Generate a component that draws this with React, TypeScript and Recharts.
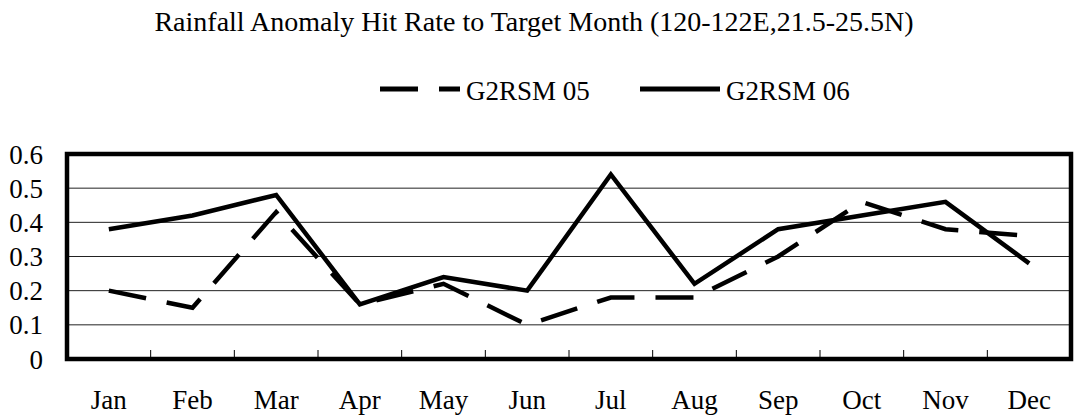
import React from "react";
import {
  LineChart,
  Line,
  XAxis,
  YAxis,
  CartesianGrid,
  ReferenceArea,
} from "recharts";

const months = ["Jan", "Feb", "Mar", "Apr", "May", "Jun", "Jul", "Aug", "Sep", "Oct", "Nov", "Dec"];
const g2rsm05 = [0.2, 0.15, 0.43, 0.16, 0.22, 0.1, 0.18, 0.18, 0.3, 0.46, 0.38, 0.36];
const g2rsm06 = [0.38, 0.42, 0.48, 0.16, 0.24, 0.2, 0.54, 0.22, 0.38, 0.42, 0.46, 0.28];
const yTicks = [0, 0.1, 0.2, 0.3, 0.4, 0.5, 0.6];
const seriesKeys = ["g05", "g06"];
const seriesNames: Record<string, string> = { g05: "G2RSM 05", g06: "G2RSM 06" };
const title = "Rainfall Anomaly Hit Rate to Target Month (120-122E,21.5-25.5N)";

const data = months.map((m, i) => ({ month: m, x: i + 0.5, g05: g2rsm05[i], g06: g2rsm06[i] }));
const labelTicks = months.map((_, i) => i + 0.5);
const boundaryTicks = months.slice(1).map((_, i) => i + 1);

const FONT = "'Liberation Serif', 'Times New Roman', serif";
const DASH = "38 21";
const seriesDash: Record<string, string | undefined> = { g05: DASH, g06: undefined };
const W = 1078;
const H = 415;

const EmptyTick = () => <g />;

export default function App() {
  return (
    <div style={{ position: "absolute", left: 0, top: 0, width: W, height: H, background: "#fff", fontFamily: FONT }}>
      <LineChart
        width={W}
        height={H}
        data={data}
        margin={{ top: 154, right: 7, bottom: 1, left: 0 }}
      >
        <CartesianGrid
          xAxisId="lbl"
          vertical={false}
          horizontal={true}
          stroke="#222"
          strokeWidth={1}
        />
        <XAxis
          xAxisId="lbl"
          type="number"
          dataKey="x"
          domain={[0, 12]}
          ticks={labelTicks}
          interval={0}
          tickFormatter={(v: number) => months[Math.floor(v)]}
          axisLine={false}
          tickLine={false}
          tickSize={0}
          tickMargin={31}
          height={55}
          tick={{ fontSize: 27, fontFamily: FONT, fill: "#000" }}
        />
        <XAxis
          xAxisId="tk"
          type="number"
          dataKey="x"
          domain={[0, 12]}
          ticks={boundaryTicks}
          interval={0}
          mirror={true}
          tick={<EmptyTick />}
          axisLine={false}
          tickLine={{ stroke: "#000", strokeWidth: 1 }}
          tickSize={9}
          height={10}
        />
        <YAxis
          type="number"
          domain={[0, 0.6]}
          ticks={yTicks}
          interval={0}
          width={67}
          axisLine={false}
          tickLine={false}
          tickSize={0}
          tickMargin={24}
          tickFormatter={(v: number) => String(v)}
          tick={{ fontSize: 27, fontFamily: FONT, fill: "#000" }}
        />
        <ReferenceArea
          xAxisId="lbl"
          x1={0}
          x2={12}
          y1={0}
          y2={0.6}
          fill="none"
          fillOpacity={0}
          stroke="#000"
          strokeWidth={4.5}
          ifOverflow="visible"
        />
        {seriesKeys.map((k) => (
          <Line
            key={k}
            xAxisId="lbl"
            type="linear"
            dataKey={k}
            name={seriesNames[k]}
            stroke="#000"
            strokeWidth={4.5}
            strokeDasharray={seriesDash[k]}
            dot={false}
            activeDot={false}
            isAnimationActive={false}
          />
        ))}
      </LineChart>
      <svg
        width={W}
        height={120}
        style={{ position: "absolute", left: 0, top: 0, pointerEvents: "none" }}
      >
        <text x={534} y={31} textAnchor="middle" fontFamily={FONT} fontSize={28} fill="#000">
          {title}
        </text>
        {seriesKeys.map((k, i) => {
          const x0 = 380 + i * 260;
          return (
            <g key={k}>
              <line
                x1={x0}
                y1={89}
                x2={x0 + 80}
                y2={89}
                stroke="#000"
                strokeWidth={5}
                strokeDasharray={seriesDash[k]}
              />
              <text x={x0 + 86} y={100} fontFamily={FONT} fontSize={27} fill="#000">
                {seriesNames[k]}
              </text>
            </g>
          );
        })}
      </svg>
    </div>
  );
}
